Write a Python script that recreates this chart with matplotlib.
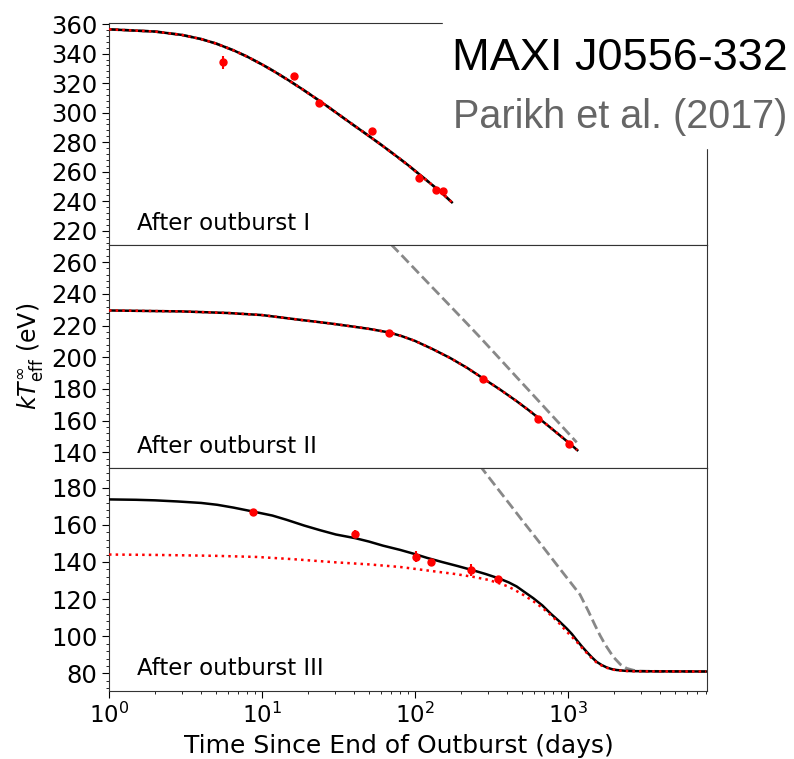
import matplotlib
matplotlib.use("Agg")
import matplotlib.pyplot as plt
import matplotlib.patches as mpatches
from matplotlib.ticker import AutoMinorLocator, MultipleLocator

# ── data ───────────────────────────────────────────────
# outburst I: fit curve (black, red dotted and grey dashed coincide)
t1_fit = [1, 2, 3, 4, 5, 6.5, 8, 10, 12, 15, 18, 22, 27, 33, 40, 50, 60,
          75, 90, 110, 130, 150, 174]
T1_fit = [356.5, 355.0, 352.7, 349.9, 346.9, 342.3, 338.0, 332.7, 328.0, 321.8,
          316.5, 310.4, 304.0, 297.5, 291.3, 284.2, 278.3, 270.8, 264.5, 257.1,
          250.9, 245.5, 239.3]
t1_obs = [5.53, 16.3, 23.7, 52.1, 106, 137, 153]
T1_obs = [334.1, 325.0, 306.3, 287.6, 255.7, 247.3, 246.8]
T1_err = [4.5, 1.2, 1.2, 1.2, 1.2, 1.2, 1.2]

# outburst II
t2_fit = [1, 3, 6, 10, 17.7, 28, 37.6, 50, 68, 82, 100, 130, 170, 220, 277,
          360, 460, 550, 640, 800, 1020, 1150]
T2_fit = [229.5, 228.9, 227.9, 226.6, 223.6, 221.3, 219.6, 217.9, 215.6, 213.3,
          210.3, 205.2, 199.5, 193.2, 186.8, 179.6, 172.4, 166.8, 161.8, 154.2,
          145.8, 141.4]
t2_cool = [70, 80, 100, 130, 170, 220, 266, 330, 400, 460, 560, 650, 730, 850,
           1000, 1140]
T2_cool = [271.0, 265.3, 255.5, 244.0, 232.3, 221.0, 212.6, 202.8, 194.0, 187.6,
           178.7, 171.9, 166.6, 159.7, 152.3, 146.3]
t2_obs = [68, 277, 640, 1020]
T2_obs = [215.6, 186.5, 161.1, 145.3]
T2_err = [1.0, 1.0, 1.0, 1.0]

# outburst III
t3_fit = [1, 1.5, 2, 2.8, 4, 5.1, 6.5, 8.7, 11.7, 14.5, 18.9, 24, 30.4, 40.8, 50,
          61.7, 80, 99.4, 120, 150, 190, 240, 290, 355, 410, 462, 520, 593, 680,
          770, 870, 980, 1060, 1140, 1230, 1325, 1430, 1540, 1660, 1790, 1930,
          2080, 2350, 2670, 3500, 8000]
T3_fit = [173.7, 173.5, 173.2, 172.6, 171.8, 170.8, 169.3, 167.2, 165.0, 162.7,
          159.6, 157.1, 154.8, 152.8, 151.0, 148.8, 146.5, 144.3, 142.2, 140.0,
          137.8, 135.5, 133.5, 131.1, 129.0, 126.8, 123.8, 120.5, 116.6, 112.2,
          108.3, 104.2, 101.2, 97.9, 94.6, 91.6, 88.7, 86.2, 84.5, 83.2, 82.3,
          81.8, 81.4, 81.2, 81.1, 81.0]
t3_red = [1, 2, 3, 5, 9.3, 16, 30.4, 50, 80, 132, 180, 240, 300, 359, 400, 438,
          510, 590, 680, 794, 880, 980, 1060, 1140, 1230, 1325, 1430, 1540, 1660,
          1790, 1930, 2080, 2350, 2670, 3500, 8000]
T3_red = [144.0, 143.8, 143.6, 143.3, 142.7, 141.5, 139.8, 138.7, 137.3, 135.0,
          133.6, 132.0, 130.4, 128.4, 127.0, 125.4, 122.3, 119.0, 115.3, 110.5,
          106.8, 102.5, 99.7, 97.0, 93.9, 91.0, 88.2, 85.8, 84.2, 83.0, 82.2,
          81.6, 81.3, 81.1, 81.05, 81.0]
t3_cool = [265, 300, 359, 420, 500, 600, 720, 850, 931, 1050, 1197, 1350, 1500,
           1619, 1750, 1977, 2200, 2417, 2700, 2955, 4000, 8000]
T3_cool = [192.0, 186.2, 177.9, 170.7, 162.6, 154.3, 145.9, 138.2, 134.0, 128.5,
           122.5, 114.0, 106.0, 100.5, 95.5, 88.9, 84.8, 82.7, 81.6, 81.2, 81.05,
           81.0]
t3_obs = [8.73, 40.8, 101, 127.6, 231, 350]
T3_obs = [166.8, 155.1, 142.9, 139.8, 135.7, 130.8]
T3_err = [1.0, 2.2, 3.0, 1.0, 3.0, 1.0]

labels = ["After outburst I", "After outburst II", "After outburst III"]
ylims = [(210, 361), (130, 270.5), (70.5, 190.5)]

GREY = "#888888"

fig = plt.figure(figsize=(7.94, 7.59), dpi=100)
axes = fig.subplots(3, 1, sharex=True)
fig.subplots_adjust(left=0.1373, right=0.8904, bottom=0.0896, top=0.9701, hspace=0)

panels = [
    (t1_fit, T1_fit, t1_fit, T1_fit, t1_fit, T1_fit, t1_obs, T1_obs, T1_err),
    (t2_fit, T2_fit, t2_fit, T2_fit, t2_cool, T2_cool, t2_obs, T2_obs, T2_err),
    (t3_fit, T3_fit, t3_red, T3_red, t3_cool, T3_cool, t3_obs, T3_obs, T3_err),
]

for ax, p, lab, yl in zip(axes, panels, labels, ylims):
    tb, Tb, tr, Tr, tg, Tg, to, To, Te = p
    ax.plot(tg, Tg, "--", color=GREY, lw=2.0, zorder=2)
    ax.plot(tb, Tb, "-", color="black", lw=1.8, zorder=3)
    ax.plot(tr, Tr, ":", color="red", lw=1.8, zorder=4)
    ax.errorbar(to, To, yerr=Te, fmt="o", color="red", ms=5, elinewidth=1.5,
                capsize=0, zorder=5)
    ax.text(0.047, 0.07, lab, transform=ax.transAxes, fontsize=16.5, va="baseline")
    ax.set_xscale("log")
    ax.set_xlim(1, 8100)
    ax.set_ylim(*yl)
    ax.yaxis.set_major_locator(MultipleLocator(20))
    ax.yaxis.set_minor_locator(AutoMinorLocator(5))
    ax.tick_params(axis="y", which="major", direction="out", length=5, labelsize=17.5)
    ax.tick_params(axis="y", which="minor", direction="out", length=2.5)
    for s in ax.spines.values():
        s.set_color("#333333")

for ax in axes[:2]:
    ax.tick_params(axis="x", which="both", bottom=False, labelbottom=False)
axes[2].tick_params(axis="x", which="major", direction="out", length=5, labelsize=16.5)
axes[2].tick_params(axis="x", which="minor", direction="out", length=2.5)

axes[2].set_xlabel("Time Since End of Outburst (days)", fontsize=18)
axes[2].xaxis.label.set_x(0.484)
axes[1].set_ylabel(r"$kT_{\rm eff}^{\infty}$ (eV)", fontsize=17)

# white box with the title in the upper right corner
fig.patches.append(mpatches.Rectangle((443 / 794, 1 - 148 / 759), 1, 1,
                                      transform=fig.transFigure, color="white",
                                      zorder=10))
fig.text(0.992, 0.908, "MAXI J0556-332", ha="right", va="baseline",
         fontsize=32.5, family="Liberation Sans", color="black", zorder=11)
fig.text(0.992, 0.831, "Parikh et al. (2017)", ha="right", va="baseline",
         fontsize=28.5, family="Liberation Sans", color="#666666", zorder=11)

fig.savefig("out.png", dpi=100)
